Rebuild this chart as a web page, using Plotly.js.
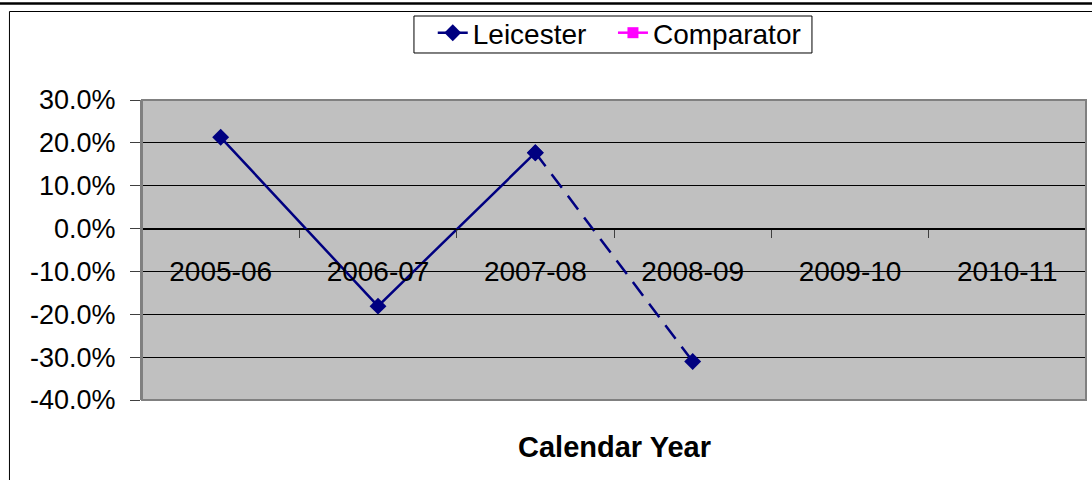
<!DOCTYPE html>
<html>
<head>
<meta charset="utf-8">
<script src="https://cdn.plot.ly/plotly-3.0.1.min.js"></script>
<style>
  html, body { margin: 0; padding: 0; background: #fff; }
  #chart { width: 1092px; height: 480px; }
</style>
</head>
<body>
<div id="chart"></div>
<script>
// values
var years = ['2005-06', '2006-07', '2007-08', '2008-09', '2009-10', '2010-11'];
var leicester = [0.213, -0.181, 0.177, -0.310, null, null];
var comparator = [null, null, null, null, null, null];
var yTicks = [-0.4, -0.3, -0.2, -0.1, 0, 0.1, 0.2, 0.3];
var yTickLabels = ['-40.0%', '-30.0%', '-20.0%', '-10.0%', '0.0%', '10.0%', '20.0%', '30.0%'];
var yMin = -0.4, yMax = 0.3;

var font = 'Liberation Sans, Arial, sans-serif';
var navy = '#000080';

// solid part (actual) and dashed part (last step)
var traceSolid = {
    type: 'scatter', mode: 'lines+markers', name: 'Leicester', legend: 'legend',
    x: years.slice(0, 3), y: leicester.slice(0, 3),
    line: {color: navy, width: 2.5},
    marker: {symbol: 'diamond', size: 13, color: navy},
    cliponaxis: false
};
var traceDash = {
    type: 'scatter', mode: 'lines+markers', name: 'Leicester', showlegend: false,
    x: years.slice(2, 4), y: leicester.slice(2, 4),
    line: {color: navy, width: 2.5, dash: '17px,10px'},
    marker: {symbol: 'diamond', size: 13, color: navy},
    cliponaxis: false
};
var traceComp = {
    type: 'scatter', mode: 'lines+markers', name: 'Comparator', legend: 'legend2',
    x: years, y: comparator,
    line: {color: '#ff00ff', width: 2.5},
    marker: {symbol: 'square', size: 11, color: '#ff00ff'}
};

var legendFont = {family: font, size: 28, color: '#000'};

var layout = {
    width: 1092,
    height: 480,
    margin: {l: 142, r: 6, t: 100, b: 80},
    paper_bgcolor: '#ffffff',
    plot_bgcolor: '#c0c0c0',
    font: {family: font, size: 28, color: '#000'},
    showlegend: true,
    legend: {
        orientation: 'h',
        x: 0.308, y: 1.3067, xanchor: 'left', yanchor: 'top',
        borderwidth: 0, bgcolor: 'rgba(0,0,0,0)',
        font: legendFont
    },
    legend2: {
        orientation: 'h',
        x: 0.4989, y: 1.3067, xanchor: 'left', yanchor: 'top',
        borderwidth: 0, bgcolor: 'rgba(0,0,0,0)',
        font: legendFont
    },
    xaxis: {
        type: 'category',
        range: [-0.5, 5.5],
        anchor: 'free',
        position: (0 - yMin) / (yMax - yMin),
        showgrid: false,
        zeroline: false,
        showline: true, linecolor: '#000', linewidth: 1,
        ticks: 'outside', tickson: 'boundaries', ticklen: 8, tickcolor: '#404040', tickwidth: 1,
        ticklabelstandoff: 18,
        tickfont: {family: font, size: 28, color: '#000'},
        fixedrange: true
    },
    yaxis: {
        range: [yMin, yMax],
        tickmode: 'array', tickvals: yTicks, ticktext: yTickLabels,
        showgrid: true, gridcolor: '#000', gridwidth: 1,
        zeroline: false,
        showline: true, linecolor: '#808080', linewidth: 2,
        ticks: 'outside', ticklen: 10, tickcolor: '#404040', tickwidth: 1,
        ticklabelstandoff: 9,
        tickfont: {family: font, size: 27, color: '#000'},
        fixedrange: true
    },
    annotations: [{
        text: '<b>Calendar Year</b>',
        xref: 'paper', yref: 'paper', x: 0.5, y: -0.157,
        xanchor: 'center', yanchor: 'middle', showarrow: false,
        font: {family: font, size: 29, color: '#000'}
    }],
    shapes: [
        // plot area border
        {type: 'rect', xref: 'paper', yref: 'paper', x0: 0, x1: 1, y0: 0, y1: 1,
         line: {color: '#808080', width: 2}},
        // legend box
        {type: 'rect', xref: 'paper', yref: 'paper', x0: 0.2881, x1: 0.7097, y0: 1.1567, y1: 1.28,
         line: {color: '#000', width: 1}, fillcolor: '#fff', layer: 'below'},
        // outer chart border
        {type: 'rect', xref: 'paper', yref: 'paper', x0: -0.1404, x1: 1.02, y0: -0.3, y1: 1.295,
         line: {color: '#000', width: 1}, layer: 'below'},
        // top rule
        {type: 'line', xref: 'paper', yref: 'paper', x0: -0.2, x1: 1.1, y0: 1.3217, y1: 1.3217,
         line: {color: '#000', width: 2.5}}
    ]
};

Plotly.newPlot('chart', [traceSolid, traceDash, traceComp], layout, {displayModeBar: false, staticPlot: true});
</script>
</body>
</html>
